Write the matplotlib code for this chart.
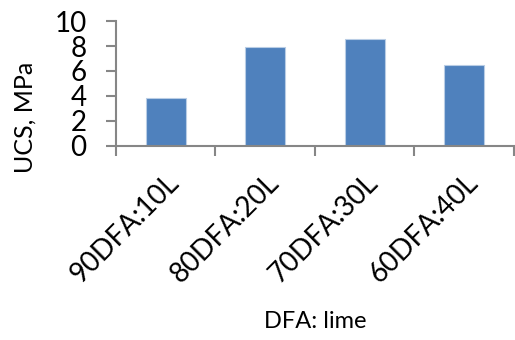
import matplotlib.pyplot as plt

plt.rcParams['font.family'] = ['Lato', 'DejaVu Sans']

mixes = ['90DFA:10L', '80DFA:20L', '70DFA:30L', '60DFA:40L']
ucs = [3.86, 7.92, 8.6, 6.5]

fig = plt.figure(figsize=(5.15, 3.4), dpi=100)
ax = fig.add_axes([0.225, 0.571, 0.773, 0.367])

x = range(len(mixes))
ax.bar(x, ucs, width=0.4, color='#4F81BD', edgecolor='#B9CDE5', linewidth=0.8)

ax.set_xlim(-0.5, len(mixes) - 0.5)
ax.set_ylim(0, 10)
ax.set_yticks([0, 2, 4, 6, 8, 10])
ax.set_xticks([i - 0.5 for i in range(len(mixes) + 1)])
ax.set_xticklabels([])
ax.set_xticks(list(x), minor=True)
ax.set_xticklabels(mixes, minor=True, rotation=45, ha='right', va='top',
                   rotation_mode='anchor', fontsize=20)
ax.tick_params(axis='x', which='minor', length=0, pad=17)
ax.tick_params(axis='x', which='major', length=7, width=1.5, color='#868686')
ax.tick_params(axis='y', length=7, width=1.5, color='#868686', labelsize=20, pad=14)

for s in ['top', 'right']:
    ax.spines[s].set_visible(False)
for s in ['left', 'bottom']:
    ax.spines[s].set_color('#868686')
    ax.spines[s].set_linewidth(1.5)

ax.set_ylabel('UCS, MPa', fontsize=18)
ax.yaxis.set_label_coords(-0.20, 0.23)
fig.text(0.613, 0.053, 'DFA: lime', fontsize=17, ha='center', va='center')

plt.savefig('out.png')
